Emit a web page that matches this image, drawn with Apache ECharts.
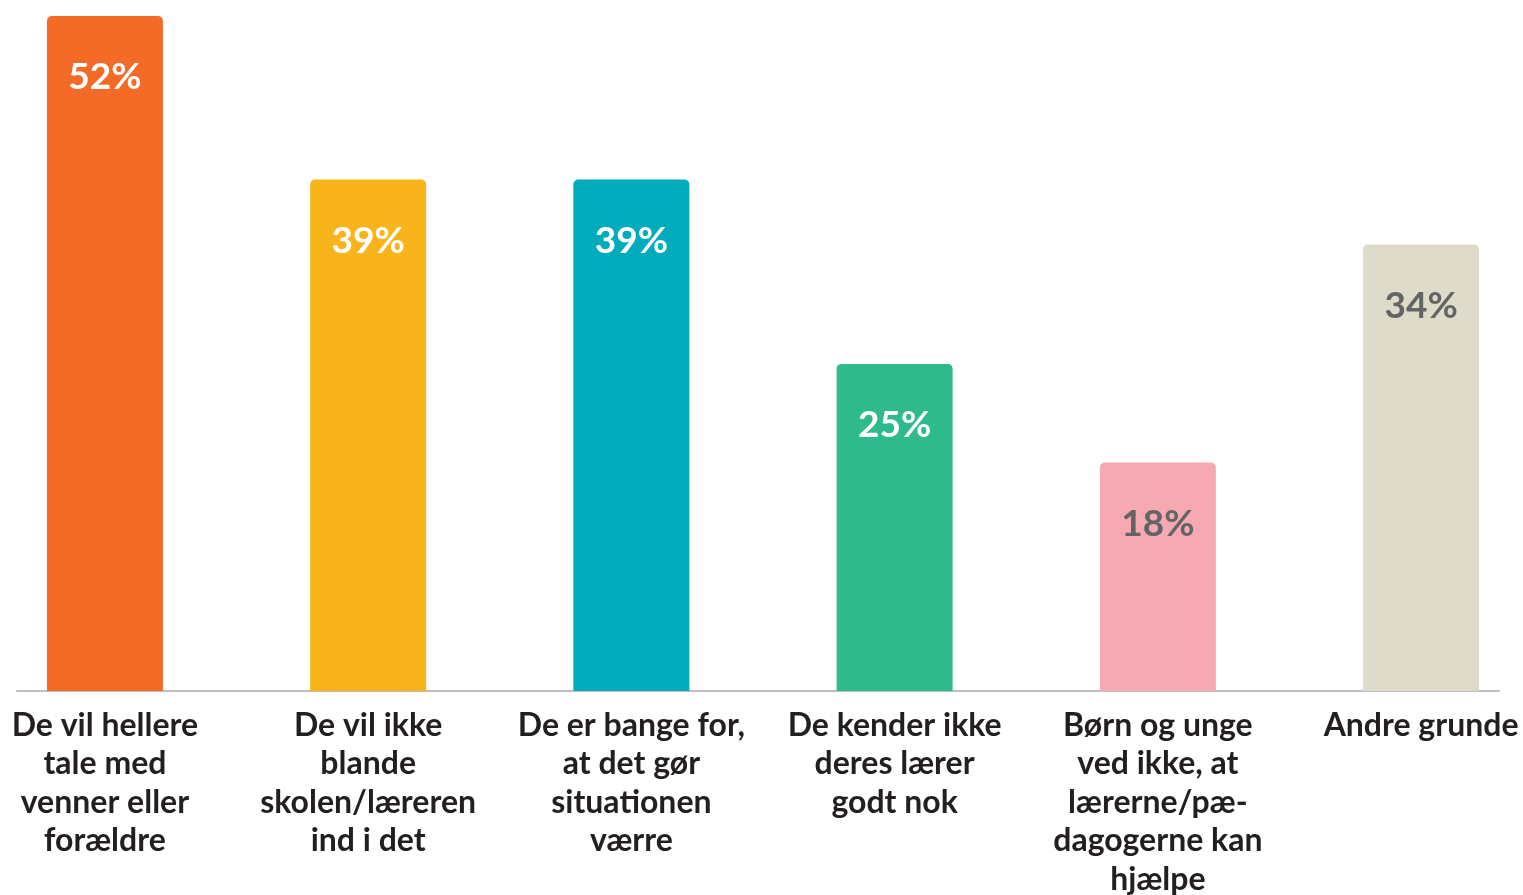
<!DOCTYPE html>
<html>
<head>
<meta charset="utf-8">
<script src="https://cdn.jsdelivr.net/npm/echarts@6/dist/echarts.min.js"></script>
<style>
  html, body { margin: 0; padding: 0; background: #fff; overflow: hidden; }
  #chart { width: 1523px; height: 895px; }
</style>
</head>
<body>
<div id="chart"></div>
<script>
// kategorier (årsager)
const categories = [
  'De vil hellere\ntale med\nvenner eller\nforældre',
  'De vil ikke\nblande\nskolen/læreren\nind i det',
  'De er bange for,\nat det gør\nsituationen\nværre',
  'De kender ikke\nderes lærer\ngodt nok',
  'Børn og unge\nved ikke, at\nlærerne/pæ-\ndagogerne kan\nhjælpe',
  'Andre grunde'
];
// andel i procent (aflæst fra søjlehøjder)
const values = [52, 39.4, 39.4, 25.2, 17.6, 34.4];
// viste etiketter
const valueLabels = ['52%', '39%', '39%', '25%', '18%', '34%'];
const barColors = ['#F36B27', '#F9B41B', '#00ACBC', '#2EBA8B', '#F6A8B3', '#DEDBCA'];
const labelColors = ['#ffffff', '#ffffff', '#ffffff', '#ffffff', '#636466', '#636466'];

const catIndex = categories.map((c, i) => i);

const chart = echarts.init(document.getElementById('chart'));

const option = {
  animation: false,
  // outerBoundsMode none: ellers skubber v6 gitteret op for at få den sidste etiket med
  grid: { left: 17, right: 24, top: 16, bottom: 204, outerBoundsMode: 'none' },
  // x som værdiakse, så søjlerne kan placeres som i originalen
  xAxis: {
    type: 'value',
    min: -0.334,
    max: 5.296,
    splitLine: { show: false },
    axisTick: { show: false },
    axisLine: { show: true, lineStyle: { color: '#BFBFBF', width: 2 } },
    axisLabel: {
      customValues: catIndex,
      margin: 15,
      color: '#231F20',
      fontFamily: 'Lato',
      fontWeight: 'bold',
      fontSize: 32,
      lineHeight: 38.5,
      align: 'center',
      formatter: (v) => categories[Math.round(v)]
    }
  },
  yAxis: {
    type: 'value',
    min: 0,
    max: 52,
    show: false,
    splitLine: { show: false }
  },
  series: [{
    type: 'bar',
    barWidth: 116,
    z: 1,
    data: values.map((v, i) => ({
      value: [i, v],
      itemStyle: { color: barColors[i], borderRadius: [5, 5, 0, 0] },
      label: { color: labelColors[i] }
    })),
    label: {
      show: true,
      position: 'insideTop',
      distance: 43,
      fontFamily: 'Lato',
      fontWeight: 'bold',
      fontSize: 37,
      lineHeight: 37,
      formatter: (p) => valueLabels[p.dataIndex]
    }
  }]
};

chart.setOption(option);
</script>
</body>
</html>
